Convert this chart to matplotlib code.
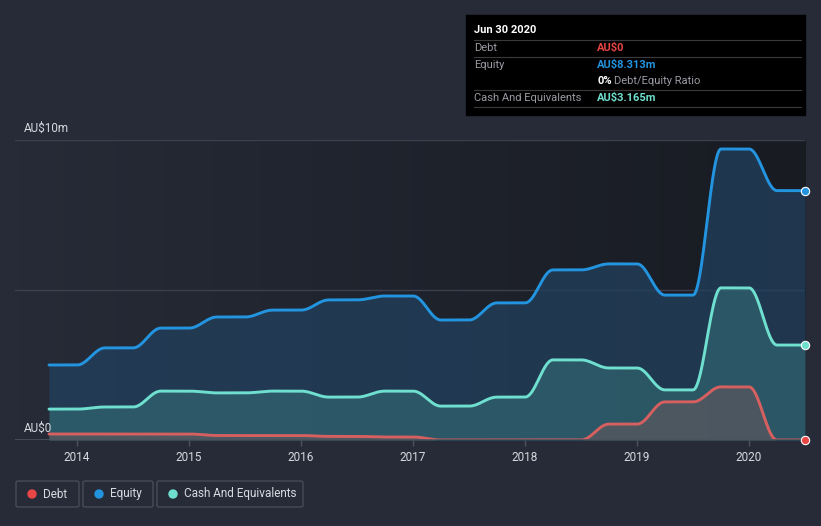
import matplotlib
matplotlib.use("Agg")
import matplotlib.pyplot as plt
import matplotlib.patches as mpatches
from matplotlib.colors import LinearSegmentedColormap
import numpy as np

# ── Data (AU$ millions, quarterly reporting dates) ───────────────────────────
dates = [2013.75, 2014.0, 2014.25, 2014.5, 2014.75, 2015.0, 2015.25, 2015.5,
         2015.75, 2016.0, 2016.25, 2016.5, 2016.75, 2017.0, 2017.25, 2017.5,
         2017.75, 2018.0, 2018.25, 2018.5, 2018.75, 2019.0, 2019.25, 2019.5,
         2019.75, 2020.0, 2020.25, 2020.5]
equity = [2.5, 2.5, 3.07, 3.07, 3.73, 3.73, 4.1, 4.1,
          4.33, 4.33, 4.67, 4.67, 4.8, 4.8, 4.0, 4.0,
          4.57, 4.57, 5.67, 5.67, 5.87, 5.87, 4.83, 4.83,
          9.7, 9.7, 8.313, 8.313]
cash = [1.03, 1.03, 1.1, 1.1, 1.63, 1.63, 1.57, 1.57,
        1.63, 1.63, 1.43, 1.43, 1.63, 1.63, 1.13, 1.13,
        1.43, 1.43, 2.67, 2.67, 2.4, 2.4, 1.67, 1.67,
        5.07, 5.07, 3.165, 3.165]
debt = [0.2, 0.2, 0.2, 0.2, 0.2, 0.2, 0.15, 0.15,
        0.15, 0.15, 0.12, 0.12, 0.1, 0.1, 0.0, 0.0,
        0.0, 0.0, 0.0, 0.0, 0.53, 0.53, 1.27, 1.27,
        1.77, 1.77, 0.0, 0.0]
year_ticks = [2014, 2015, 2016, 2017, 2018, 2019, 2020]

# ── Colours ──────────────────────────────────────────────────────────────────
BG = "#262b37"
C_EQ = "#2394df"
C_CASH = "#6fe0cf"
C_DEBT = "#d65f5f"
C_TXT = "#d8dae0"
C_GRID = "#3b404c"

plt.rcParams["font.family"] = ["Roboto", "DejaVu Sans"]


def smooth(x, y, n=40):
    """Ease-in/out between consecutive points (display only)."""
    xs, ys = [], []
    for i in range(len(x) - 1):
        s = np.linspace(0, 1, n, endpoint=False)
        e = (1 - np.cos(np.pi * s)) / 2
        xs.append(x[i] + (x[i + 1] - x[i]) * s)
        ys.append(y[i] + (y[i + 1] - y[i]) * e)
    xs.append([x[-1]])
    ys.append([y[-1]])
    return np.concatenate(xs), np.concatenate(ys)


fig = plt.figure(figsize=(8.21, 5.26), dpi=100)
fig.patch.set_facecolor(BG)
W, H = 821, 526
ax = fig.add_axes([15 / W, (H - 440) / H, (805 - 15) / W, 300 / H])
ax.set_facecolor(BG)

# background gradient of the plot area
grad = LinearSegmentedColormap.from_list("bg", [BG, "#181b22"])
ax.imshow(np.linspace(0, 1, 256).reshape(1, -1), cmap=grad, aspect="auto",
          extent=[0, 1, 0, 1], transform=ax.transAxes, zorder=0)

x0 = 2014 - (77 - 15) / 112
ax.set_xlim(x0, 2020.5)
ax.set_ylim(0, 10)

for v in (5, 10):
    ax.axhline(v, color=C_GRID, lw=1, zorder=1)

xe, ye = smooth(dates, equity)
xc, yc = smooth(dates, cash)
xd, yd = smooth(dates, debt)

ax.fill_between(xe, 0, ye, color="#22405e", alpha=0.75, lw=0, zorder=2)
ax.fill_between(xc, 0, yc, color="#3a7f82", alpha=0.45, lw=0, zorder=3)
ax.fill_between(xd, 0, yd, color="#55575f", alpha=0.8, lw=0, zorder=4)

ax.plot(xe, ye, color=C_EQ, lw=2.1, zorder=5, solid_capstyle="round")
ax.plot(xc, yc, color=C_CASH, lw=2.1, zorder=5, solid_capstyle="round")
ax.plot(xd, yd, color=C_DEBT, lw=2.1, zorder=5, solid_capstyle="round")

# end markers
for val, col in ((equity[-1], C_EQ), (cash[-1], C_CASH), (debt[-1], "#e84545")):
    ax.plot(dates[-1], val, "o", ms=6, color=col, mec="white", mew=0.8,
            zorder=6, clip_on=False)

for s in ax.spines.values():
    s.set_visible(False)
ax.axhline(0, color="#4d525e", lw=1.2, zorder=5)
ax.set_yticks([])
ax.set_xticks(year_ticks)
ax.set_xticklabels([str(y) for y in year_ticks])
ax.tick_params(axis="x", colors="#4d525e", labelcolor=C_TXT, labelsize=8.5,
               length=4, width=1, pad=4)

fig.text(24 / W, 1 - 128 / H, "AU$10m", color=C_TXT, fontsize=8.5, va="center")
fig.text(24 / W, 1 - 428 / H, "AU$0", color=C_TXT, fontsize=8.5, va="center")

# ── Tooltip box ──────────────────────────────────────────────────────────────
tip = mpatches.Rectangle((466 / W, 1 - 115 / H), (805 - 466) / W, 100 / H,
                         transform=fig.transFigure, color="#000000", zorder=10)
fig.add_artist(tip)
tx, vx = 474 / W, 597 / W
fig.text(tx, 1 - 30 / H, "Jun 30 2020", color="white", fontsize=8,
         fontweight="bold", va="center", zorder=11)
for yy in (40, 57, 90, 107):
    fig.add_artist(plt.Line2D([474 / W, 801 / W], [1 - yy / H] * 2,
                              transform=fig.transFigure, color="#3a3a3a",
                              lw=0.8, zorder=11))
rows = [(48, "Debt", "AU$0", "#e84545"),
        (65, "Equity", "AU$8.313m", C_EQ),
        (98, "Cash And Equivalents", "AU$3.165m", C_CASH)]
for yy, lab, val, col in rows:
    fig.text(tx, 1 - yy / H, lab, color="#9a9ca3", fontsize=8, va="center",
             zorder=11)
    fig.text(vx, 1 - yy / H, val, color=col, fontsize=8, fontweight="bold",
             va="center", zorder=11)
fig.text(vx, 1 - 81 / H, "0%", color="white", fontsize=8, fontweight="bold",
         va="center", zorder=11)
fig.text(vx + 17 / W, 1 - 81 / H, "Debt/Equity Ratio", color="#9a9ca3",
         fontsize=8, va="center", zorder=11)

# ── Legend boxes ─────────────────────────────────────────────────────────────
legend_items = [("Debt", "#e84545", 16, 79),
                ("Equity", C_EQ, 83, 153),
                ("Cash And Equivalents", C_CASH, 157, 303)]
for lab, col, xa, xb in legend_items:
    box = mpatches.FancyBboxPatch((xa / W, 1 - 507 / H), (xb - xa) / W, 26 / H,
                                  boxstyle="round,pad=0,rounding_size=0.003",
                                  transform=fig.transFigure, fc="none",
                                  ec="#474c58", lw=1)
    fig.add_artist(box)
    fig.add_artist(mpatches.Ellipse(((xa + 16) / W, 1 - 494 / H), 8 / W, 8 / H,
                                    transform=fig.transFigure, color=col))
    fig.text((xa + 27) / W, 1 - 494 / H, lab, color=C_TXT, fontsize=8.5,
             va="center")

fig.savefig("out.png", dpi=100, facecolor=fig.get_facecolor())
